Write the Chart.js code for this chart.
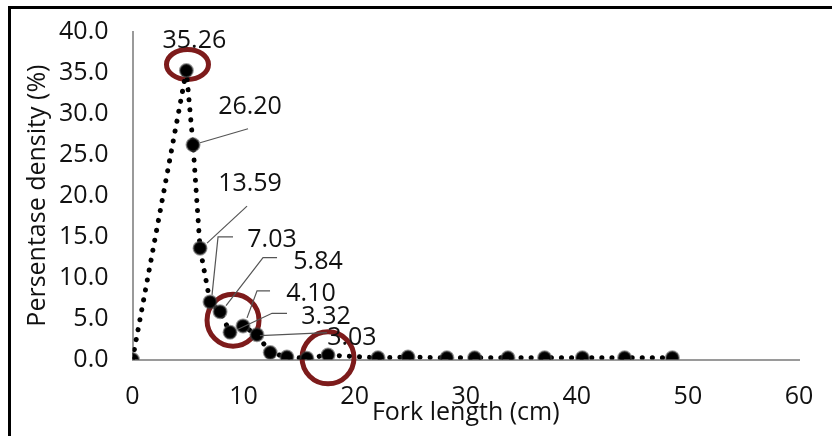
<!DOCTYPE html>
<html lang="en">
<head>
    <meta charset="UTF-8">
    <title>Fork length density</title>
    <style>
        html, body { margin: 0; padding: 0; background: #fff; }
        #container { position: relative; width: 832px; height: 436px; overflow: hidden; }
        #moldura { position: absolute; left: 8px; top: 6px; width: 900px; height: 500px;
                   border-top: 3px solid #000; border-left: 3px solid #000; pointer-events: none; }
        #grafico { position: absolute; left: 0; top: 0; }
    </style>
</head>
<body>
    <div id="container">
        <canvas id="grafico" width="832" height="436"></canvas>
        <div id="moldura"></div>
    </div>

<script src="https://cdn.jsdelivr.net/npm/chart.js"></script>
<script>

// dados
const forkLength = [0, 4.85, 5.45, 6.08, 6.98, 7.88, 8.78, 9.95, 11.2, 12.4, 13.9, 15.7, 17.6,
                    22.1, 24.8, 28.3, 30.8, 33.8, 37.1, 40.5, 44.3, 48.6];
const density = [0, 35.26, 26.20, 13.59, 7.03, 5.84, 3.32, 4.10, 3.03, 0.85, 0.3, 0.15, 0.55,
                 0.2, 0.3, 0.2, 0.2, 0.2, 0.2, 0.2, 0.2, 0.2];
const xTicks = [0, 10, 20, 30, 40, 50, 60];
const yTicks = [0, 5, 10, 15, 20, 25, 30, 35, 40];

// pontos com rotulo de valor
const labelledPoints = [1, 2, 3, 4, 5, 6, 7, 8];
// circulos vermelhos (coordenadas do grafico)
const highlightX = [4.95, 9.05, 17.6];
const highlightY = [36.0, 4.8, 0.2];

// posicao dos rotulos (relativa ao ponto, em px) e linhas de chamada
const labelLayout = {
    1: { dx: 8, dy: -30, leader: [] },
    2: { dx: 57, dy: -38, leader: [[7, -2], [55, -16]] },
    3: { dx: 50, dy: -64, leader: [[7, -5], [47, -42]] },
    4: { dx: 62, dy: -62, leader: [[2, -7], [8, -65], [23, -65]] },
    5: { dx: 98, dy: -50, leader: [[6, -6], [43, -54], [57, -54]] },
    6: { dx: 96, dy: -15, leader: [[8, -3], [42, -19], [57, -19]] },
    7: { dx: 68, dy: -32, leader: [[4, -8], [14, -35], [27, -35]] },
    8: { dx: 95, dy: 3, leader: [[3, 1], [70, -2]] }
};

const pontos = forkLength.map((x, i) => ({ x: x, y: density[i] }));
const fonte = { family: "'Open Sans', sans-serif", size: 25 };

const circulos = {
    id: 'circulos',
    beforeDatasetsDraw(chart) {
        const ctx = chart.ctx;
        const sx = chart.scales.x, sy = chart.scales.y;
        ctx.save();
        ctx.strokeStyle = '#7d1b1b';
        ctx.lineWidth = 5;
        highlightX.forEach((hx, i) => {
            const cx = sx.getPixelForValue(hx);
            const cy = sy.getPixelForValue(highlightY[i]);
            ctx.beginPath();
            if (i === 0) {
                ctx.ellipse(cx, cy, 21, 15, 0, 0, Math.PI * 2);
            } else {
                ctx.arc(cx, cy, 26, 0, Math.PI * 2);
            }
            ctx.stroke();
        });
        ctx.restore();
    }
};

const rotulos = {
    id: 'rotulos',
    afterDatasetsDraw(chart) {
        const ctx = chart.ctx;
        const meta = chart.getDatasetMeta(0);
        ctx.save();
        ctx.font = `${fonte.size}px ${fonte.family}`;
        ctx.textAlign = 'center';
        ctx.textBaseline = 'middle';
        labelledPoints.forEach((idx) => {
            const el = meta.data[idx];
            const lay = labelLayout[idx];
            // linha de chamada
            if (lay.leader.length) {
                ctx.strokeStyle = '#555';
                ctx.lineWidth = 1.2;
                ctx.beginPath();
                lay.leader.forEach((p, k) => {
                    if (k === 0) ctx.moveTo(el.x + p[0], el.y + p[1]);
                    else ctx.lineTo(el.x + p[0], el.y + p[1]);
                });
                ctx.stroke();
            }
            ctx.fillStyle = '#111';
            ctx.fillText(density[idx].toFixed(2), el.x + lay.dx, el.y + lay.dy);
        });
        ctx.restore();
    }
};

new Chart(document.getElementById('grafico'), {
    type: 'line',
    data: {
        datasets: [{
            label: 'Density',
            data: pontos,
            borderColor: '#000',
            borderWidth: 5,
            borderDash: [0.1, 10],
            borderCapStyle: 'round',
            fill: false,
            tension: 0,
            pointRadius: 6.5,
            pointBackgroundColor: '#000',
            pointBorderColor: 'rgba(70,70,70,0.55)',
            pointBorderWidth: 2
        }]
    },
    options: {
        responsive: false,
        animation: false,
        layout: { padding: { left: 12, right: 33, top: 31.7, bottom: 0 } },
        plugins: { legend: { display: false }, tooltip: { enabled: false } },
        scales: {
            x: {
                type: 'linear',
                min: 0, max: 60,
                afterBuildTicks: (s) => { s.ticks = xTicks.map(v => ({ value: v })); },
                afterFit: (s) => { s.height = 76.5; },
                // marcas invisiveis so para afastar os rotulos do eixo
                grid: { display: true, drawOnChartArea: false, drawTicks: true,
                        tickLength: 22.5, tickColor: 'rgba(0,0,0,0)' },
                border: { display: true, color: '#9a9a9a', width: 2 },
                ticks: { font: fonte, color: '#111', padding: 0 },
                title: { display: true, text: 'Fork length (cm)', font: fonte, color: '#111',
                         padding: { top: 0, bottom: 8 } }
            },
            y: {
                min: 0, max: 40,
                afterBuildTicks: (s) => { s.ticks = yTicks.map(v => ({ value: v })); },
                afterFit: (s) => { s.width = 120.5; },
                grid: { display: true, drawOnChartArea: false, drawTicks: true,
                        tickLength: 24, tickColor: 'rgba(0,0,0,0)' },
                border: { display: true, color: '#9a9a9a', width: 2 },
                ticks: { font: fonte, color: '#111', padding: 0,
                         callback: (v) => Number(v).toFixed(1) },
                title: { display: true, text: 'Persentase density (%)', font: fonte, color: '#111',
                         padding: { top: 11, bottom: 0 } }
            }
        }
    },
    plugins: [circulos, rotulos]
});

</script>
</body>
</html>
